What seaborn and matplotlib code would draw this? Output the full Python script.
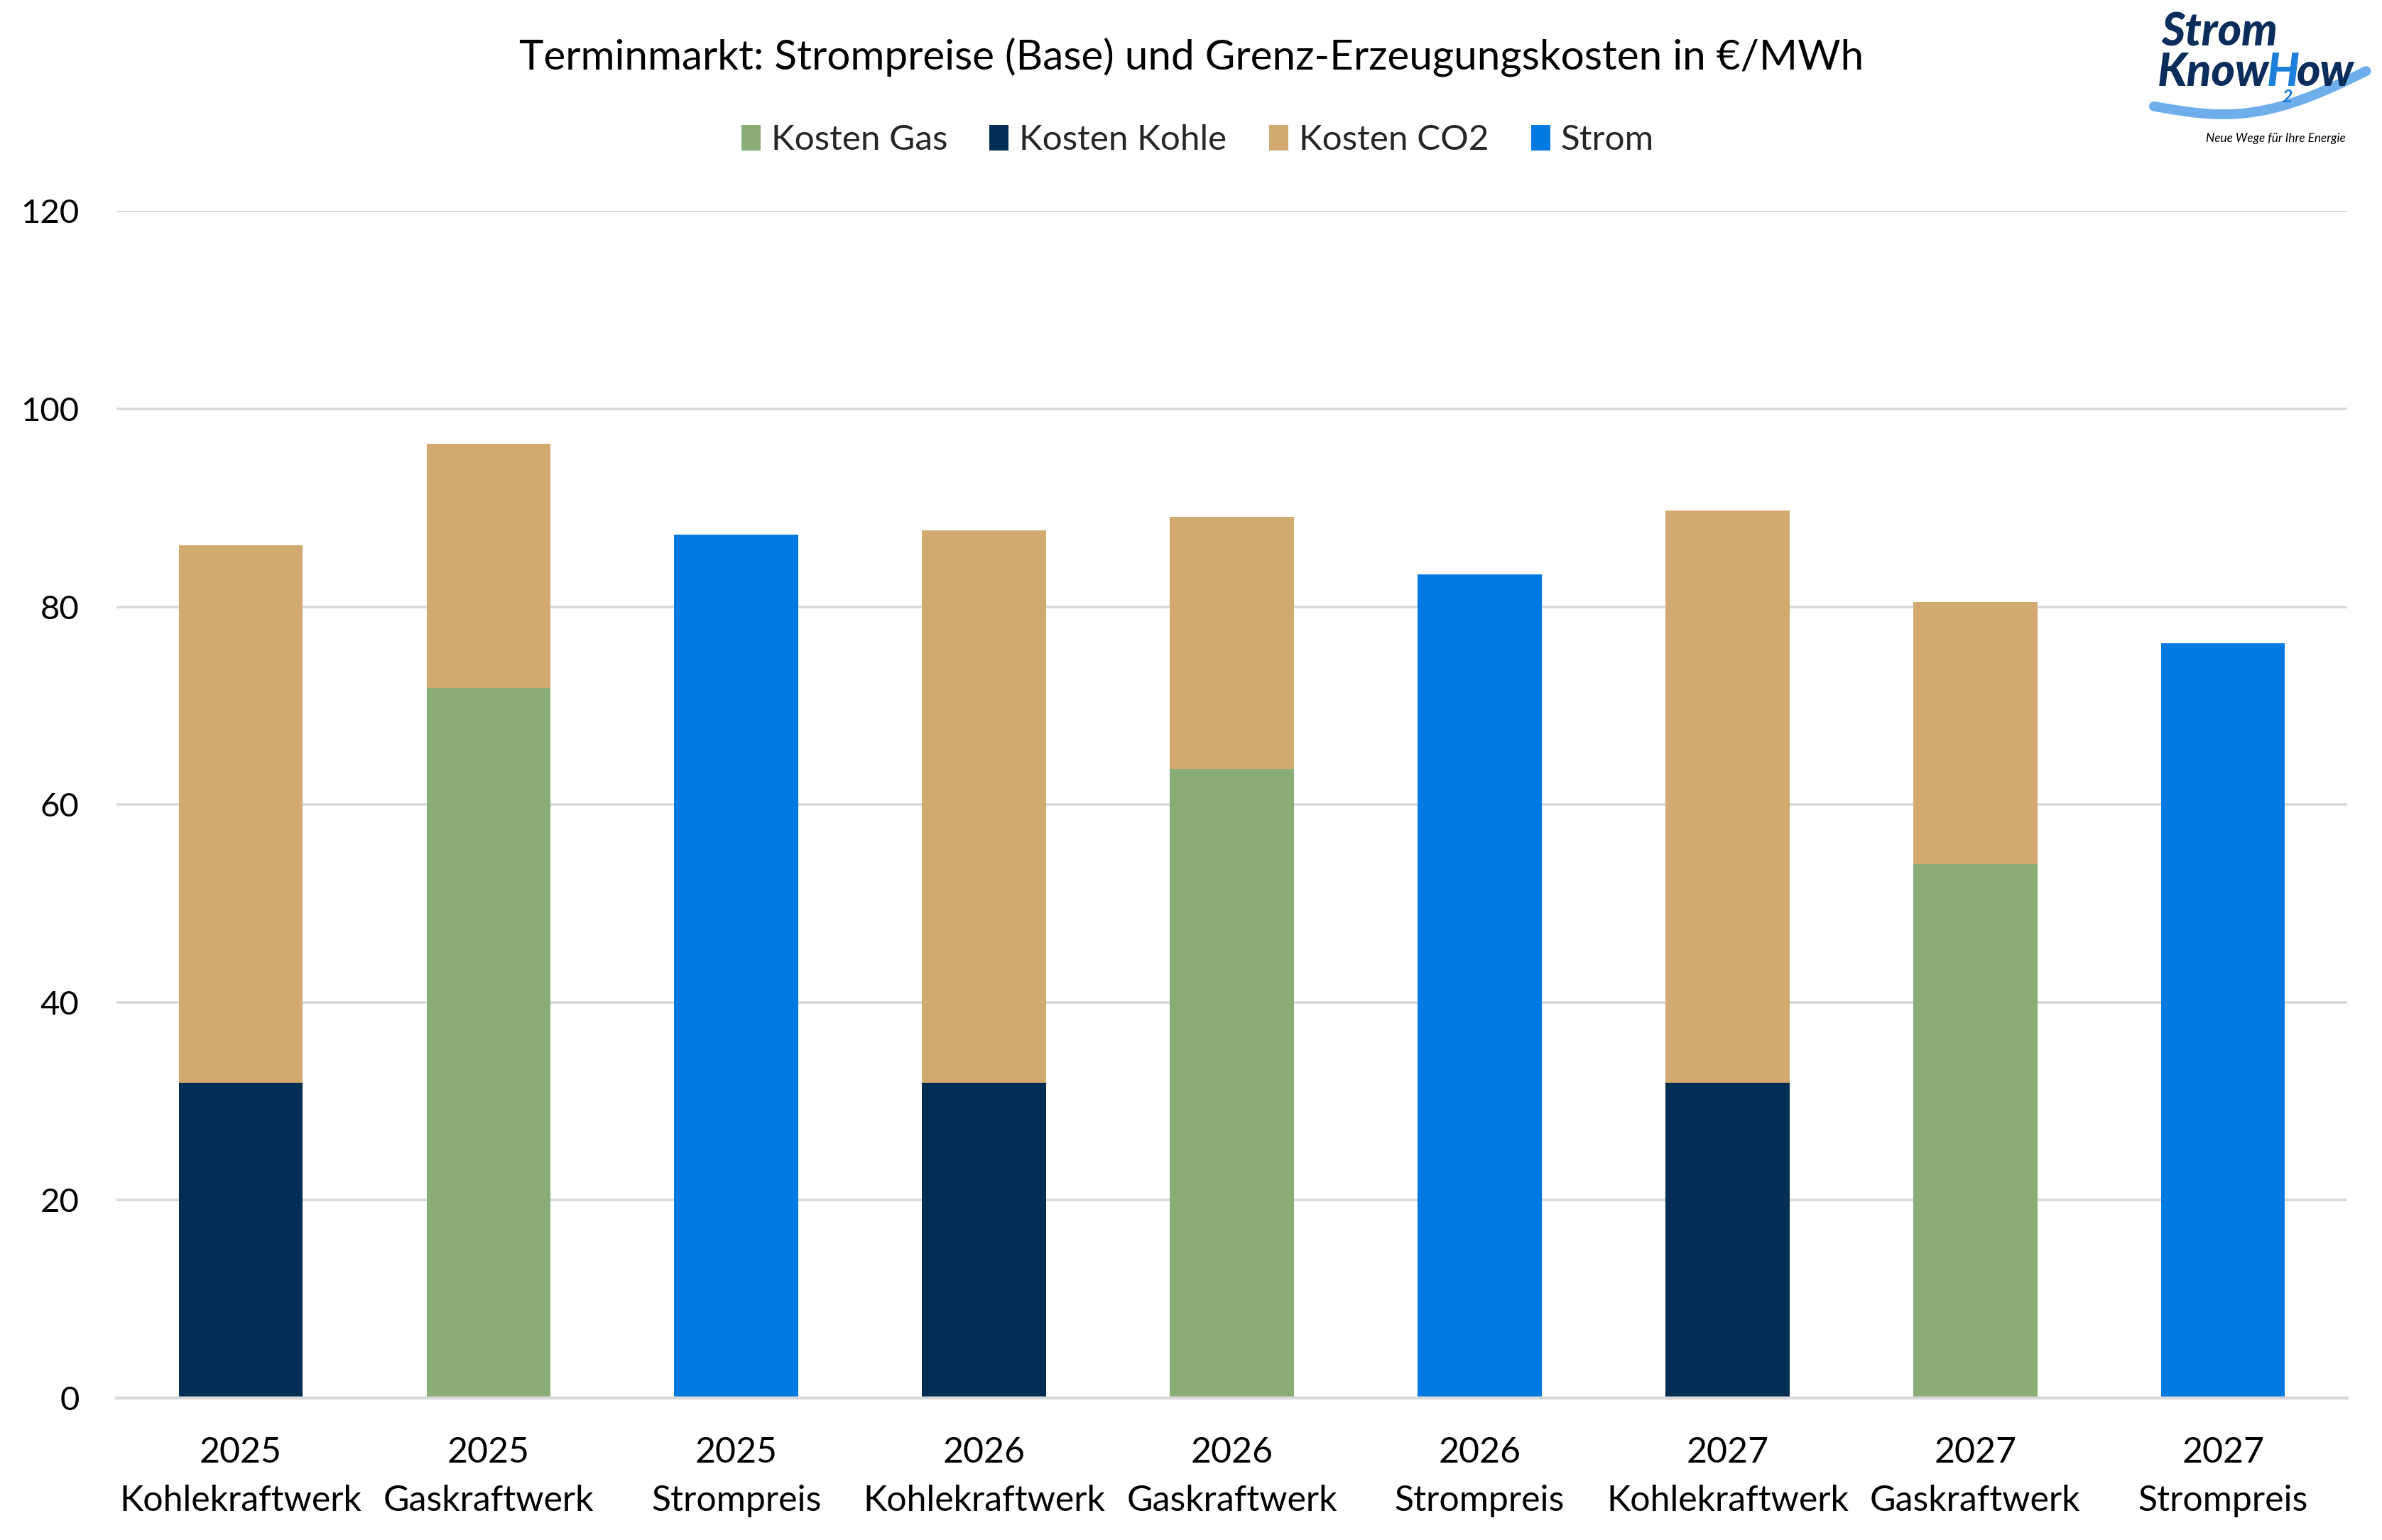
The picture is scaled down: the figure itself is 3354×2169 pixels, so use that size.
import numpy as np
import pandas as pd
import matplotlib
matplotlib.use("Agg")
import matplotlib.pyplot as plt
from matplotlib.patches import Patch
from matplotlib.lines import Line2D
import seaborn as sns

# ---------------- data ----------------
categories = ["2025\nKohlekraftwerk", "2025\nGaskraftwerk", "2025\nStrompreis",
              "2026\nKohlekraftwerk", "2026\nGaskraftwerk", "2026\nStrompreis",
              "2027\nKohlekraftwerk", "2027\nGaskraftwerk", "2027\nStrompreis"]
kosten_gas = [0, 71.8, 0, 0, 63.6, 0, 0, 54.0, 0]
kosten_kohle = [31.9, 0, 0, 31.9, 0, 0, 31.9, 0, 0]
kosten_co2 = [54.3, 24.7, 0, 55.8, 25.5, 0, 57.8, 26.5, 0]
strom = [0, 0, 87.3, 0, 0, 83.3, 0, 0, 76.3]
series_names = ["Kosten Gas", "Kosten Kohle", "Kosten CO2", "Strom"]
y_ticks = [0, 20, 40, 60, 80, 100, 120]
title = "Terminmarkt: Strompreise (Base) und Grenz-Erzeugungskosten in €/MWh"

col_gas = "#8AAC76"
col_kohle = "#032E54"
col_co2 = "#D2A96E"
col_strom = "#0079E0"

df = pd.DataFrame({"cat": categories, "gas": kosten_gas, "kohle": kosten_kohle,
                   "co2": kosten_co2, "strom": strom})
df["total"] = df["gas"] + df["kohle"] + df["co2"]

sns.set_theme(style="white")
plt.rcParams["font.family"] = ["Lato", "DejaVu Sans"]

fig = plt.figure(figsize=(16.775, 10.845), dpi=200)
ax = fig.add_axes([0.049, 0.0922, 0.936, 0.7707])

common = dict(x="cat", order=categories, width=0.5, saturation=1, ax=ax,
              errorbar=None, linewidth=0)
sns.barplot(data=df, y="total", color=col_co2, **common)
sns.barplot(data=df, y="kohle", color=col_kohle, **common)
sns.barplot(data=df, y="gas", color=col_gas, **common)
sns.barplot(data=df, y="strom", color=col_strom, **common)

ax.set_ylim(0, 120)
ax.set_xlim(-0.5, len(categories) - 0.5)
ax.set_yticks(y_ticks)
ax.yaxis.grid(True, color="#D9D9D9", linewidth=1.3)
ax.set_axisbelow(True)
for s in ["top", "right", "left"]:
    ax.spines[s].set_visible(False)
ax.spines["bottom"].set_color("#D9D9D9")
ax.spines["bottom"].set_linewidth(1.6)
ax.set_xlabel("")
ax.set_ylabel("")
ax.tick_params(axis="y", length=0, pad=19, labelsize=17, labelcolor="black")
ax.tick_params(axis="x", length=0, pad=19.5, labelsize=18, labelcolor="black")
for lab in ax.get_xticklabels():
    lab.set_linespacing(1.6)

fig.text(0.5, 0.963, title, ha="center", va="center", fontsize=21, color="black")

handles = [Patch(facecolor=c, edgecolor="none") for c in [col_gas, col_kohle, col_co2, col_strom]]
fig.legend(handles, series_names, loc="center", bbox_to_anchor=(0.5026, 0.909), ncol=4,
           frameon=False, fontsize=17.8, handlelength=0.55, handleheight=0.75,
           handletextpad=0.3, columnspacing=1.2)

# ---------------- logo (decorative) ----------------
renderer = fig.canvas.get_renderer()
navy = "#0B2D5B"
lblue = "#1E7FDB"
logo_kw = dict(fontsize=23, fontweight="black", fontstyle="italic", ha="left", va="center")
fig.text(0.907, 0.979, "Strom", color=navy, **logo_kw)
x0 = 0.9055
parts = [("Know", navy), ("H", lblue), ("ow", navy)]
for txt, c in parts:
    t = fig.text(x0, 0.953, txt, color=c, **logo_kw)
    bb = t.get_window_extent(renderer=renderer)
    x0 += bb.width / fig.bbox.width - 0.0012
    if txt == "H":
        fig.text(x0 - 0.006, 0.937, "2", fontsize=9, fontweight="bold", fontstyle="italic",
                 color=lblue, ha="left", va="center")
tt = np.linspace(0, 1, 120)
wave_y = 0.931 - 0.006 * np.sin(np.pi * 1.3 * tt) + 0.018 * tt ** 3
fig.add_artist(Line2D(0.904 + 0.089 * tt, wave_y, color="#4A9BE6", linewidth=5,
                      alpha=0.8, solid_capstyle="round", transform=fig.transFigure))
fig.text(0.955, 0.910, "Neue Wege für Ihre Energie", fontsize=6.2, fontstyle="italic",
         color="black", ha="center", va="center")

fig.savefig("out.png", dpi=200)
